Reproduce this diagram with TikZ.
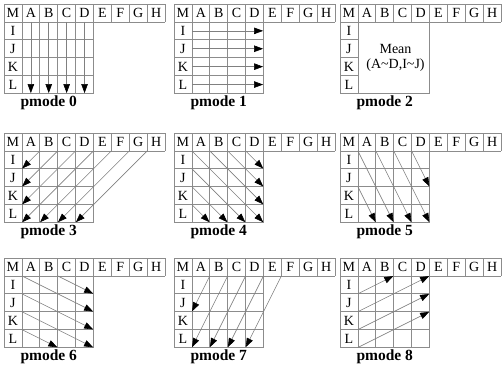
\documentclass[tikz,border=0pt]{standalone}
\usepackage{fontspec}
\setmainfont{Liberation Serif}
\usetikzlibrary{arrows.meta}
\tikzset{
  gridline/.style={draw=black!45, line width=0.8bp},
  cellletter/.style={font=\fontsize{14bp}{15.5bp}\selectfont, inner sep=0pt},
  modelabel/.style={font=\fontsize{15.5bp}{17bp}\selectfont\bfseries, anchor=base, inner sep=0pt},
  predarrow/.style={draw=black!50, line width=0.6bp, shorten >=0.4bp, -{Triangle[length=9bp,width=6.5bp,black]}},
  panel/.style={x=17.9bp, y=-17.9bp},
}
\newcommand\gridframe[1]{%
  \foreach \i in {0,...,9} {\draw[gridline] (\i,0) -- (\i,1);}
  \draw[gridline] (0,0) -- (9,0);
  \draw[gridline] (0,1) -- (9,1);
  \foreach \j in {2,...,5} {\draw[gridline] (0,\j) -- (1,\j);}
  \draw[gridline] (0,1) -- (0,5);
  \draw[gridline] (1,1) rectangle (5,5);
  \foreach \l [count=\i from 0] in {M,A,B,C,D,E,F,G,H} {\node[cellletter] (#1\l) at (\i+0.5,0.52) {\l};}
  \foreach \l [count=\i from 1] in {I,J,K,L} {\node[cellletter] (#1\l) at (0.5,\i+0.52) {\l};}
}
\newcommand\innergrid{%
  \foreach \i in {2,3,4} {\draw[gridline] (\i,1) -- (\i,5);}
  \foreach \j in {2,3,4} {\draw[gridline] (1,\j) -- (5,\j);}
}
\begin{document}
\begin{tikzpicture}
\useasboundingbox (0,0) rectangle (504bp,-365bp);
% pmode 0
\begin{scope}[shift={(4bp,-4bp)}, panel]
  \gridframe{pa}\innergrid
  \foreach \c in {1,...,4} {\draw[predarrow] (\c+0.5,1) -- (\c+0.5,5);}
  \node[modelabel] (la) at (2.5,5.7) {pmode 0};
\end{scope}
% pmode 1
\begin{scope}[shift={(174bp,-4bp)}, panel]
  \gridframe{pb}\innergrid
  \foreach \r in {1,...,4} {\draw[predarrow] (1,\r+0.5) -- (5,\r+0.5);}
  \node[modelabel] (lb) at (2.5,5.7) {pmode 1};
\end{scope}
% pmode 2
\begin{scope}[shift={(340bp,-4bp)}, panel]
  \gridframe{pc}
  \node[cellletter, align=center] (mean) at (3.1,3) {Mean\\(A\textasciitilde D,I\textasciitilde J)};
  \node[modelabel] (lc) at (2.5,5.7) {pmode 2};
\end{scope}
% pmode 3
\begin{scope}[shift={(4bp,-133bp)}, panel]
  \gridframe{pd}\innergrid
  \foreach \a/\b/\c/\d in {2/1/1/2, 3/1/1/3, 4/1/1/4, 5/1/1/5, 6/1/2/5, 7/1/3/5, 8/1/4/5}
    {\draw[predarrow] (\a,\b) -- (\c,\d);}
  \node[modelabel] (ld) at (2.5,5.7) {pmode 3};
\end{scope}
% pmode 4
\begin{scope}[shift={(174bp,-133bp)}, panel]
  \gridframe{pe}\innergrid
  \foreach \a/\b/\c/\d in {4/1/5/2, 3/1/5/3, 2/1/5/4, 1/1/5/5, 1/2/4/5, 1/3/3/5, 1/4/2/5}
    {\draw[predarrow] (\a,\b) -- (\c,\d);}
  \node[modelabel] (le) at (2.5,5.7) {pmode 4};
\end{scope}
% pmode 5
\begin{scope}[shift={(340bp,-133bp)}, panel]
  \gridframe{pf}\innergrid
  \foreach \a/\b/\c/\d in {4/1/5/3, 3/1/5/5, 2/1/4/5, 1/1/3/5, 1/3/2/5}
    {\draw[predarrow] (\a,\b) -- (\c,\d);}
  \node[modelabel] (lf) at (2.5,5.7) {pmode 5};
\end{scope}
% pmode 6
\begin{scope}[shift={(4bp,-258bp)}, panel]
  \gridframe{pg}\innergrid
  \foreach \a/\b/\c/\d in {3/1/5/2, 1/1/5/3, 1/2/5/4, 1/3/5/5, 1/4/3/5}
    {\draw[predarrow] (\a,\b) -- (\c,\d);}
  \node[modelabel] (lg) at (2.5,5.7) {pmode 6};
\end{scope}
% pmode 7
\begin{scope}[shift={(174bp,-258bp)}, panel]
  \gridframe{ph}\innergrid
  \foreach \a/\b/\c/\d in {2/1/1/3, 3/1/1/5, 4/1/2/5, 5/1/3/5, 6/1/4/5}
    {\draw[predarrow] (\a,\b) -- (\c,\d);}
  \node[modelabel] (lh) at (2.5,5.7) {pmode 7};
\end{scope}
% pmode 8
\begin{scope}[shift={(340bp,-258bp)}, panel]
  \gridframe{pi}\innergrid
  \foreach \a/\b/\c/\d in {1/2/3/1, 1/3/5/1, 1/4/5/2, 1/5/5/3}
    {\draw[predarrow] (\a,\b) -- (\c,\d);}
  \node[modelabel] (li) at (2.5,5.7) {pmode 8};
\end{scope}
\end{tikzpicture}
\end{document}
